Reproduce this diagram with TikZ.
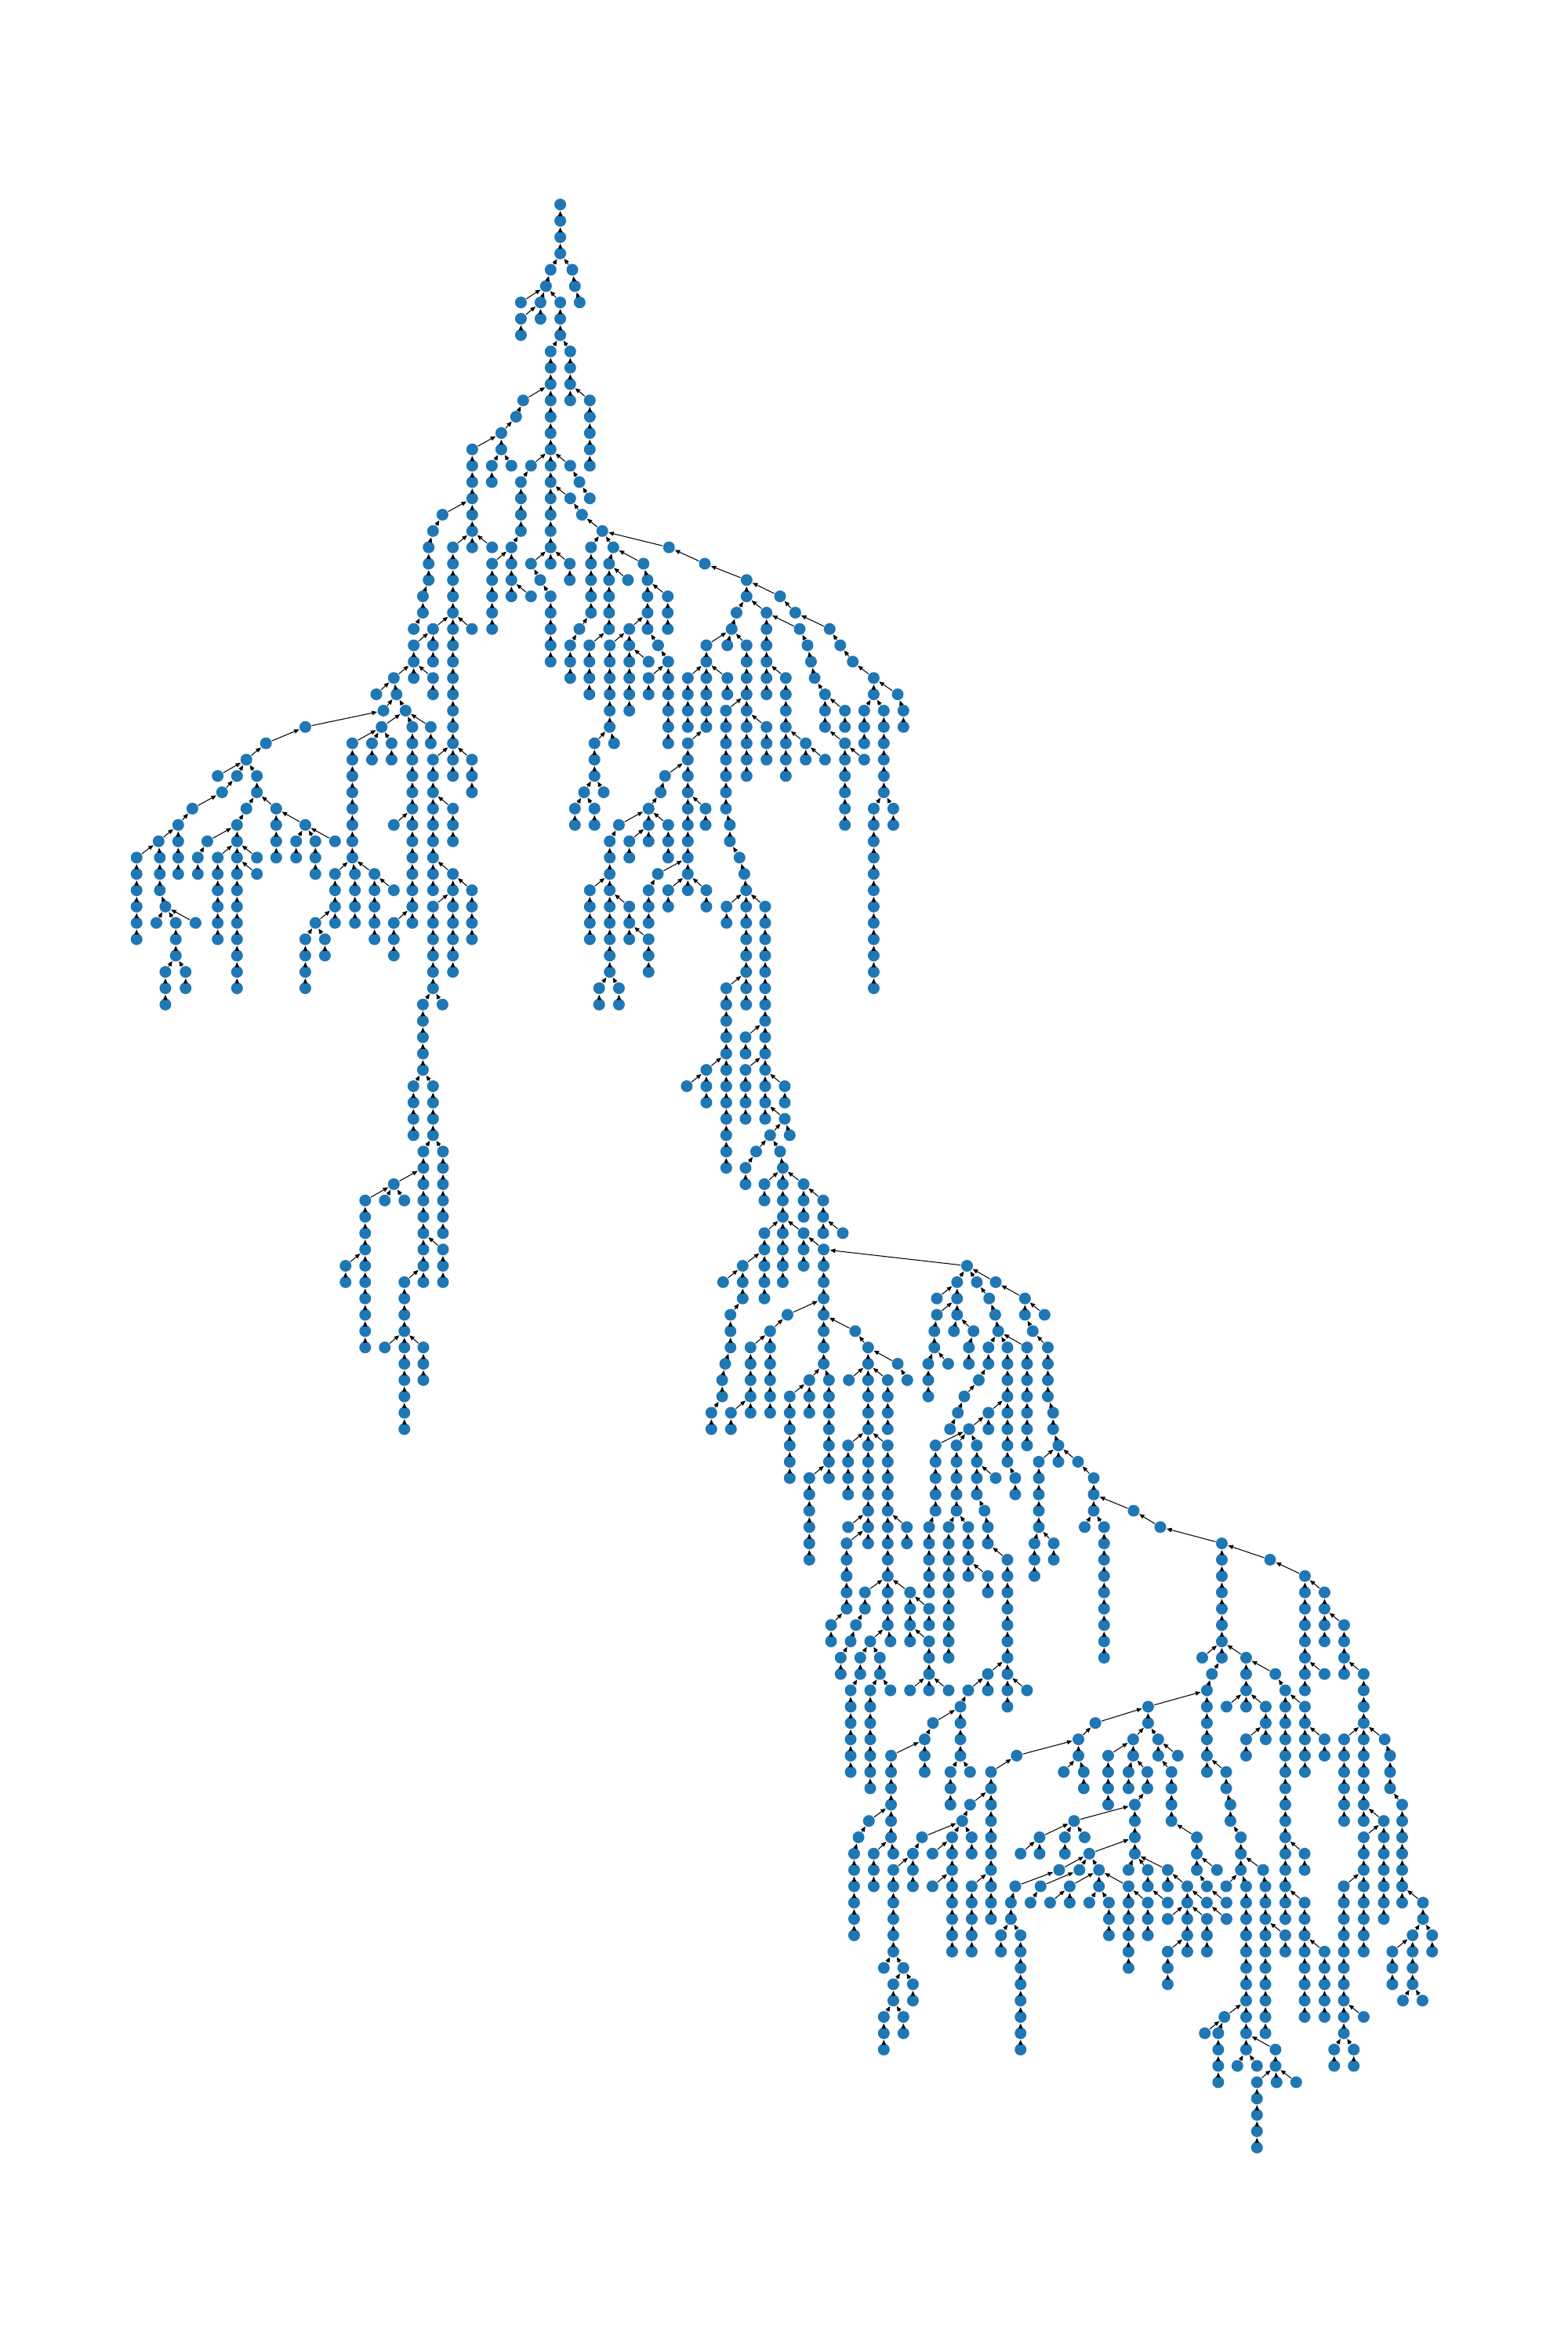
\documentclass[tikz,border=0pt]{standalone}
\usetikzlibrary{arrows.meta}
\definecolor{nb}{HTML}{1F77B4}
\tikzset{dot/.style={circle,fill=nb,draw=none,inner sep=0pt,minimum size=3.9pt},
  edge/.style={line width=0.27pt,black,-{Triangle[length=1.7pt,width=1.4pt]}}}
\newcommand\tchain[5]{%
  \foreach \i in {1,...,#5}{\node[dot] (#1-\i) at (#3,{135.6+10.83*(#4+\i-1)}) {};}%
  \draw[edge] (#1-1) -- (#2);%
  \ifnum#5>1 \foreach \i [evaluate=\i as \j using int(\i-1)] in {2,...,#5}{\draw[edge] (#1-\i) -- (#1-\j);}\fi}
\begin{document}
\begin{tikzpicture}[x=0.5pt,y=-0.5pt]
\useasboundingbox[fill=white] (0,0) rectangle (1040,1560);
\foreach \i in {1,...,4}{\node[dot] (R-\i) at (371.6,{135.6+10.83*(\i-1)}) {};}
\foreach \i [evaluate=\i as \j using int(\i-1)] in {2,...,4}{\draw[edge] (R-\i) -- (R-\j);}
% top
\tchain{a}{R-4}{365.2}{4}{1}
\tchain{a2}{a-1}{362.1}{5}{1}
\tchain{b1}{R-4}{379.6}{4}{1}
\tchain{b2}{b1-1}{381.3}{5}{1}
\tchain{b3}{b2-1}{384.5}{6}{1}
\tchain{c1}{a2-1}{345.5}{6}{1}
\tchain{c2}{a2-1}{358.5}{6}{2}
\tchain{c3}{c2-1}{345.5}{7}{2}
\tchain{c4}{a2-1}{371.6}{6}{3}
\tchain{d1}{c4-3}{365.2}{9}{3}
\tchain{d2}{c4-3}{378.2}{9}{3}
\tchain{e1}{d2-3}{378.2}{12}{1}
\tchain{e2}{d2-3}{391.2}{12}{5}
\tchain{f1}{d1-3}{347}{12}{1}
\tchain{f2}{f1-1}{342.3}{13}{1}
\tchain{f3}{f2-1}{332.5}{14}{2}
\tchain{f4}{f3-1}{313.2}{15}{7}
\tchain{f5}{f3-2}{326.2}{16}{2}
\tchain{f6}{f3-2}{339.2}{16}{1}
\tchain{g}{d1-3}{365.2}{12}{10}
\tchain{h1}{g-4}{352.2}{16}{1}
\tchain{h2}{h1-1}{345.5}{17}{4}
\tchain{h3}{h2-4}{339.2}{21}{1}
\tchain{i1}{g-4}{378.2}{16}{1}
\tchain{i2}{i1-1}{384.3}{17}{1}
\tchain{i3}{i2-1}{391.2}{18}{1}
\tchain{j1}{g-6}{378.2}{18}{1}
\tchain{j2}{j1-1}{386}{19}{1}
\tchain{j3}{j2-1}{399.5}{20}{1}
\tchain{k1}{f4-4}{293.5}{19}{1}
\tchain{k2}{k1-1}{287.2}{20}{1}
\tchain{k3}{k2-1}{284.3}{21}{3}
\tchain{k4}{k3-3}{280.5}{24}{2}
\tchain{k5}{k4-2}{274.4}{26}{1}
\tchain{m}{f4-6}{300.4}{21}{13}
\tchain{n1}{f4-6}{326.4}{21}{1}
\tchain{n2}{h3-1}{326.4}{22}{5}
\tchain{n3}{h3-1}{339.2}{22}{3}
\tchain{n4}{n3-2}{352.2}{24}{1}
\tchain{o1}{g-10}{352.2}{22}{1}
\tchain{o2}{o1-1}{358.3}{23}{1}
\tchain{o3}{o2-1}{365.2}{24}{5}
\tchain{o4}{g-10}{365.2}{22}{1}
\tchain{o5}{g-10}{377.9}{22}{2}
\tchain{p1}{j3-1}{392}{21}{5}
\tchain{p2}{p1-5}{384.3}{26}{1}
\tchain{p3}{p2-1}{378.2}{27}{3}
\tchain{q}{j3-1}{406.8}{21}{1}
\tchain{q1}{q-1}{404}{22}{5}
\tchain{q2}{q1-1}{416.5}{23}{1}
\tchain{q3}{q1-5}{390.9}{27}{4}
\tchain{s}{q-1}{426.8}{22}{1}
\tchain{s1}{s-1}{429.5}{23}{4}
\tchain{s2}{s1-1}{442.9}{24}{3}
\tchain{s3}{s1-3}{417.4}{26}{1}
\tchain{s4}{s3-1}{404.4}{27}{6}
\tchain{s5}{s3-1}{417.4}{27}{5}
\tchain{s6}{s5-1}{430.2}{28}{1}
\tchain{s7}{s1-4}{436.5}{27}{1}
\tchain{s8}{s7-1}{443.2}{28}{6}
\tchain{s9}{s8-1}{430.2}{29}{2}
\tchain{t1}{s4-6}{394.3}{33}{3}
\tchain{t2}{s4-6}{407.3}{33}{1}
\tchain{t3}{t1-3}{387.4}{36}{1}
\tchain{t4}{t1-3}{400.4}{36}{1}
\tchain{t5}{t3-1}{381.3}{37}{2}
\tchain{t6}{t3-1}{394.3}{37}{2}
\tchain{u}{j3-1}{443.7}{21}{1}
\tchain{u1}{u-1}{467.5}{22}{1}
\tchain{u2}{u1-1}{495.2}{23}{2}
\tchain{u3}{u2-1}{517.4}{24}{1}
\tchain{v1}{u2-2}{488.5}{25}{1}
\tchain{v2}{v1-1}{485.3}{26}{1}
\tchain{w1}{v2-1}{468.5}{27}{6}
\tchain{w2}{v2-1}{482.4}{27}{1}
\tchain{w3}{v2-1}{495.2}{27}{9}
\tchain{w4}{w1-2}{456.2}{29}{4}
\tchain{w5}{w1-2}{482.4}{29}{2}
\tchain{x1}{w1-6}{456.2}{33}{9}
\tchain{x2}{x1-2}{441.1}{35}{1}
\tchain{x3}{x2-1}{438.2}{36}{1}
\tchain{x4}{x3-1}{430.2}{37}{1}
\tchain{x5}{x4-1}{410.5}{38}{1}
\tchain{x6}{x5-1}{404.4}{39}{9}
\tchain{x7}{x6-3}{391.2}{42}{4}
\tchain{x8}{x6-4}{417.4}{43}{3}
\tchain{x9}{x8-2}{430.2}{45}{3}
\tchain{x10}{x6-9}{397.4}{48}{2}
\tchain{x11}{x6-9}{410.5}{48}{2}
\tchain{x12}{x4-1}{430.2}{38}{2}
\tchain{x13}{x12-1}{417.4}{39}{2}
\tchain{x14}{x4-1}{443.2}{38}{3}
\tchain{x15}{x1-4}{468}{37}{2}
\tchain{x16}{x1-8}{436.3}{41}{1}
\tchain{x17}{x16-1}{430.2}{42}{3}
\tchain{x18}{x1-9}{443.2}{42}{2}
\tchain{x19}{x1-9}{456.2}{42}{1}
\tchain{x20}{x1-9}{468.5}{42}{2}
\tchain{y1}{w3-4}{481.5}{31}{7}
\tchain{y2}{y1-7}{484.1}{38}{2}
\tchain{y3}{y2-2}{490.5}{40}{1}
\tchain{y4}{y3-1}{493.7}{41}{1}
\tchain{y5}{y4-1}{494.9}{42}{8}
\tchain{y6}{y5-1}{481.9}{43}{2}
\tchain{y7}{y5-1}{507.5}{43}{14}
\tchain{y8}{y5-6}{481.7}{48}{12}
\tchain{y9}{y8-5}{468.5}{53}{3}
\tchain{y10}{y9-1}{455.5}{54}{1}
\tchain{y11}{y7-8}{494.5}{51}{2}
\tchain{y12}{y7-10}{494.5}{53}{4}
\tchain{y13}{y7-11}{520.5}{54}{2}
\tchain{y14}{y7-13}{520.5}{56}{1}
\tchain{y15}{y14-1}{510.8}{57}{1}
\tchain{y16}{y14-1}{523.8}{57}{1}
\tchain{y17}{y15-1}{501.5}{58}{1}
\tchain{y18}{y17-1}{494.5}{59}{2}
\tchain{y19}{y15-1}{517.4}{58}{1}
\tchain{y20}{y19-1}{519.2}{59}{1}
\tchain{z1}{y20-1}{507}{60}{2}
\tchain{z2}{y20-1}{519.2}{60}{3}
\tchain{z3}{y20-1}{533}{60}{3}
\tchain{z4}{z3-1}{546}{61}{3}
\tchain{z5}{z4-2}{559}{63}{1}
\tchain{z6}{z2-3}{507}{63}{5}
\tchain{z7}{z2-3}{519.2}{63}{4}
\tchain{z8}{z2-3}{533}{63}{3}
\tchain{Z}{z8-1}{546.3}{64}{8}
\tchain{aa1}{z6-2}{492.6}{65}{3}
\tchain{aa2}{aa1-1}{479.6}{66}{1}
\tchain{aa3}{aa1-3}{484.5}{68}{3}
\tchain{aa4}{aa3-3}{481}{71}{1}
\tchain{aa5}{aa4-1}{479}{72}{2}
\tchain{aa6}{aa5-2}{471.8}{74}{2}
\tchain{ab1}{Z-4}{522.3}{68}{1}
\tchain{ab2}{ab1-1}{510.8}{69}{6}
\tchain{ab3}{ab2-1}{497.8}{70}{5}
\tchain{ab4}{ab3-4}{484.8}{74}{2}
\tchain{ac1}{Z-5}{567.2}{69}{1}
\tchain{ac2}{ac1-1}{575.8}{70}{13}
\tchain{ac3}{ac2-1}{595.4}{71}{1}
\tchain{ac4}{ac3-1}{601.8}{72}{1}
\tchain{ac5}{ac2-2}{563}{72}{1}
\tchain{ac6}{ac2-2}{588.8}{72}{4}
\tchain{ac7}{ac2-6}{562.5}{76}{4}
\tchain{ac8}{ac2-6}{588.8}{76}{12}
\tchain{ac9}{ac2-11}{562.5}{81}{1}
\tchain{ac10}{ac2-12}{561.5}{82}{5}
\tchain{ac11}{ac10-5}{551.2}{87}{2}
\tchain{ac12}{ac8-5}{601.5}{81}{2}
\tchain{ac13}{ac8-9}{573.7}{85}{2}
\tchain{ac14}{ac13-2}{567.7}{87}{1}
\tchain{ac15}{ac14-1}{564.2}{88}{1}
\tchain{ac16}{ac15-1}{557.6}{89}{2}
\tchain{ac17}{ac8-9}{603.6}{85}{4}
\tchain{ac18}{ac8-12}{577.2}{88}{1}
\tchain{ac19}{ac8-12}{590.6}{88}{1}
\tchain{ac20}{ac18-1}{570.6}{89}{2}
\tchain{ac21}{ac18-1}{583.6}{89}{2}
\tchain{ac22}{ac20-2}{564.2}{91}{6}
\tchain{ac23}{ac21-2}{577.2}{91}{7}
\tchain{ac24}{ac21-2}{590.6}{91}{1}
\tchain{ad1}{Z-8}{536.8}{72}{3}
\tchain{ad2}{ad1-1}{523.8}{73}{6}
\tchain{ad3}{Z-8}{549.8}{72}{7}
\tchain{ad4}{ad3-6}{536.8}{78}{6}
\tchain{ba}{Z-1}{641.4}{65}{1}
\tchain{bb1}{ba-1}{634.8}{66}{3}
\tchain{bb2}{bb1-1}{621.4}{67}{1}
\tchain{bb3}{bb1-2}{621.4}{68}{1}
\tchain{bb4}{bb3-1}{619.7}{69}{2}
\tchain{bb5}{bb4-2}{615.7}{71}{3}
\tchain{bb6}{bb4-2}{628.9}{71}{1}
\tchain{bb7}{bb1-3}{632.7}{69}{1}
\tchain{bb8}{bb1-3}{645.7}{69}{1}
\tchain{bb9}{bb8-1}{642.6}{70}{2}
\tchain{bc1}{ba-1}{647.9}{66}{1}
\tchain{bc2}{bc1-1}{656.1}{67}{1}
\tchain{bc3}{bc2-1}{660.1}{68}{1}
\tchain{bc4}{bc3-1}{662.1}{69}{1}
\tchain{bd1}{bc4-1}{655.6}{70}{2}
\tchain{bd2}{bd1-2}{649.2}{72}{1}
\tchain{bd3}{bd2-1}{639.6}{73}{1}
\tchain{bd4}{bd3-1}{635.3}{74}{1}
\tchain{bd5}{bd4-1}{630.1}{75}{1}
\tchain{be}{bc4-1}{668.2}{70}{8}
\tchain{bf}{bc4-1}{681.2}{70}{7}
\tchain{bg1}{be-4}{655.6}{74}{2}
\tchain{bg2}{bg1-1}{642.7}{75}{1}
\tchain{bh1}{bg2-1}{620.5}{76}{5}
\tchain{bh1b}{bh1-5}{616.2}{81}{5}
\tchain{bh2}{bg2-1}{634.4}{76}{5}
\tchain{bh3}{bg2-1}{647.9}{76}{4}
\tchain{bh4}{bh3-2}{660.4}{78}{1}
\tchain{bh5}{bh3-4}{653}{80}{1}
\tchain{bh6}{bh5-1}{655.2}{81}{2}
\tchain{bh7}{bh6-2}{668.2}{83}{10}
\tchain{bh8}{bh7-7}{655.2}{90}{2}
\tchain{bh9}{bh7-8}{681.2}{91}{1}
\tchain{bh10}{bh8-1}{642.2}{91}{1}
\tchain{bh11}{bh10-1}{637}{92}{4}
\tchain{bh12}{bh11-1}{618.8}{93}{1}
\tchain{bh13}{bh12-1}{613.3}{94}{3}
\tchain{bh14}{bh11-4}{630.4}{96}{3}
\tchain{bh15}{bh11-4}{643.4}{96}{1}
\tchain{bi1}{bh13-1}{591}{95}{6}
\tchain{bi2}{bi1-4}{576.3}{99}{1}
\tchain{bi3}{bi2-1}{569.4}{100}{1}
\tchain{bi4}{bi3-1}{566.5}{101}{6}
\tchain{bi5}{bi1-6}{579.5}{101}{3}
\tchain{bi6}{bi1-6}{592.5}{101}{1}
\tchain{bj1}{bh2-5}{629.2}{81}{9}
\tchain{bj2}{bh2-5}{642.2}{81}{4}
\tchain{bj3}{bj2-3}{655.2}{84}{2}
\tchain{bk1}{ac17-1}{616.2}{86}{2}
\tchain{bk2}{ac17-3}{616.2}{88}{3}
\tchain{bk3}{bk2-3}{616.2}{91}{1}
\tchain{bk4}{bk2-3}{629.2}{91}{1}
\tchain{bk5}{bk2-3}{603.6}{91}{1}
\tchain{bl1}{be-8}{673.4}{78}{2}
\tchain{bm1}{ba-1}{660.4}{66}{1}
\tchain{bm2}{bm1-1}{679.8}{67}{2}
\tchain{bm3}{bm2-1}{692.8}{68}{1}
\tchain{bm4}{bm2-2}{685}{69}{1}
\tchain{bm5}{bm4-1}{695}{70}{4}
\tchain{bm6}{bm5-4}{698.5}{74}{2}
\tchain{bm7}{bm6-2}{702}{76}{2}
\tchain{bm8}{bm7-1}{689}{77}{5}
\tchain{bm9}{bm7-1}{715}{77}{1}
\tchain{bm10}{bm8-5}{686.1}{82}{3}
\tchain{bm11}{bm8-5}{698.9}{82}{2}
\tchain{bn1}{bm9-1}{725.4}{78}{3}
\tchain{bn2}{bn1-3}{719.4}{81}{1}
\tchain{bn3}{bn1-3}{732.3}{81}{9}
\tchain{bo1}{bn1-2}{751.9}{80}{1}
\tchain{bo2}{bo1-1}{769.6}{81}{1}
\tchain{bo3}{bo2-1}{810.4}{82}{7}
\tchain{bp1}{bo3-1}{842.4}{83}{1}
\tchain{bp2}{bp1-1}{865.5}{84}{8}
\tchain{bp3}{bp2-1}{878.5}{85}{4}
\tchain{bp4}{bp2-6}{878.5}{90}{1}
\tchain{bp5}{bp3-2}{891.5}{87}{4}
\tchain{bq1}{bp5-3}{904.5}{90}{10}
\tchain{bq2}{bq1-4}{891.5}{94}{6}
\tchain{bq3}{bq1-4}{918.4}{94}{1}
\tchain{bq4}{bq3-1}{922}{95}{3}
\tchain{bq5}{bq4-3}{930}{98}{7}
\tchain{bq6}{bq5-6}{943.8}{104}{2}
\tchain{bq7}{bq6-2}{936.9}{106}{4}
\tchain{bq8}{bq6-2}{949.9}{106}{2}
\tchain{bq9}{bq7-1}{923.5}{107}{3}
\tchain{bq10}{bq7-4}{930.5}{110}{1}
\tchain{bq11}{bq7-4}{943.5}{110}{1}
\tchain{br1}{bq1-9}{917.8}{99}{7}
\tchain{br2}{br1-1}{904.5}{100}{8}
\tchain{br3}{br2-3}{891.3}{103}{10}
\tchain{br4}{br3-8}{904.5}{111}{1}
\tchain{br5}{br3-10}{884.9}{113}{2}
\tchain{br6}{br3-10}{897.9}{113}{2}
\tchain{bs1}{bo3-7}{797.4}{89}{1}
\tchain{bs2}{bo3-7}{810.4}{89}{1}
\tchain{bs3}{bs2-1}{803.8}{90}{1}
\tchain{bs4}{bs3-1}{800.5}{91}{6}
\tchain{bt1}{bs4-1}{761.5}{92}{2}
\tchain{bt2}{bt1-1}{726.5}{93}{1}
\tchain{bt3}{bt2-1}{715.3}{94}{2}
\tchain{bt4}{bt3-1}{674.3}{95}{1}
\tchain{bt5}{bt4-1}{657.3}{96}{10}
\tchain{bt6}{bt3-2}{705.5}{96}{1}
\tchain{bt7}{bt3-2}{718.8}{96}{2}
\tchain{bu1}{bt5-2}{643.4}{98}{1}
\tchain{bu2}{bu1-1}{638.2}{99}{1}
\tchain{bu3}{bu2-1}{611.5}{100}{1}
\tchain{bu4}{bu3-1}{605.5}{101}{3}
\tchain{bu5}{bu4-1}{592.5}{102}{6}
\tchain{bu6}{bu5-6}{586.2}{108}{1}
\tchain{bu7}{bu5-6}{599.2}{108}{1}
\tchain{bu8}{bu7-1}{592.5}{109}{2}
\tchain{bu9}{bu7-1}{605.5}{109}{2}
\tchain{bu10}{bu8-2}{586.2}{111}{3}
\tchain{bu11}{bu8-2}{599.2}{111}{2}
\tchain{bv1}{bu2-1}{631.5}{100}{8}
\tchain{bv2}{bv1-1}{618.5}{101}{1}
\tchain{bv3}{bv1-3}{618.5}{103}{1}
\tchain{bv4}{bu2-1}{644.5}{100}{2}
\tchain{bv5}{bt5-7}{644.5}{103}{5}
\tchain{bw1}{bt1-2}{751.6}{94}{2}
\tchain{bw2}{bw1-1}{735}{95}{4}
\tchain{bw3}{bw1-2}{748.5}{96}{2}
\tchain{bw4}{bw1-2}{761}{96}{2}
\tchain{bw5}{bw4-2}{752.7}{98}{4}
\tchain{bx1}{bw5-1}{712.4}{99}{1}
\tchain{bx2}{bx1-1}{689.5}{100}{2}
\tchain{bx3}{bx2-1}{676.9}{101}{1}
\tchain{bx4}{bx1-1}{706.3}{100}{2}
\tchain{bx5}{bx1-1}{719.4}{100}{1}
\tchain{by1}{bw5-3}{722.5}{101}{1}
\tchain{by2}{by1-1}{702.5}{102}{1}
\tchain{by3}{by1-1}{715.9}{102}{1}
\tchain{by4}{by1-1}{728.9}{102}{2}
\tchain{by5}{by2-1}{673.4}{103}{1}
\tchain{by6}{by5-1}{670.5}{104}{2}
\tchain{by7}{by6-2}{663.9}{106}{2}
\tchain{by8}{by6-2}{676.9}{106}{8}
\tchain{by9}{by3-1}{690.2}{103}{1}
\tchain{by10}{by9-1}{683.5}{104}{1}
\tchain{by11}{by4-1}{709.5}{103}{2}
\tchain{by12}{by11-1}{696.5}{104}{1}
\tchain{by13}{by4-2}{722.5}{104}{1}
\tchain{by14}{by4-2}{735.5}{104}{3}
\tchain{bz1}{by4-1}{748.5}{103}{6}
\tchain{bz2}{bz1-1}{761.3}{104}{3}
\tchain{ca1}{bw5-4}{748.5}{102}{1}
\tchain{ca2}{bw5-4}{761.3}{102}{2}
\tchain{ca3}{bw5-4}{774.5}{102}{2}
\tchain{ca4}{ca2-2}{774.5}{104}{1}
\tchain{ca5}{ca3-1}{787.5}{103}{4}
\tchain{ca6}{ca5-1}{800.5}{104}{1}
\tchain{ca7}{ca6-1}{813.5}{105}{1}
\tchain{ca8}{ca5-2}{774.5}{105}{1}
\tchain{ca9}{ca5-2}{800.5}{105}{3}
\tchain{ca10}{ca5-4}{774.5}{107}{3}
\tchain{ca11}{ca5-4}{787.5}{107}{1}
\tchain{cb1}{bs4-5}{813.3}{96}{2}
\tchain{cb2}{cb1-2}{816.1}{98}{2}
\tchain{cb3}{cb2-2}{823}{100}{3}
\tchain{cb4}{cb3-2}{837.8}{102}{1}
\tchain{cb5}{cb4-1}{839.3}{103}{10}
\tchain{cb6}{cb5-3}{852.5}{106}{2}
\tchain{cc1}{bt1-2}{768.2}{94}{2}
\tchain{cc2}{cc1-1}{781.2}{95}{1}
\tchain{cc3}{cc1-2}{777}{96}{4}
\tchain{cc4}{cc3-4}{793.8}{100}{3}
\tchain{cc5}{cc4-2}{807.2}{102}{1}
\tchain{cc6}{cc4-3}{800.5}{103}{1}
\tchain{cc7}{cc6-1}{813.5}{104}{1}
\tchain{cd1}{cb3-3}{813.3}{103}{1}
\tchain{cd2}{cb3-3}{826.5}{103}{11}
\tchain{cd3}{cd2-8}{812.1}{111}{1}
\tchain{cd4}{cd3-1}{799.1}{112}{1}
\tchain{cd5}{cd3-1}{808}{112}{4}
\tchain{cd6}{cd2-10}{846}{113}{2}
\tchain{cd7}{cd6-2}{833.7}{115}{5}
\tchain{cd8}{cd6-2}{846.7}{115}{1}
\tchain{cd9}{cd6-2}{859.7}{115}{1}
\tchain{cd10}{cd2-11}{820.7}{114}{1}
\tchain{cd11}{cd2-11}{833.7}{114}{1}
\tchain{ce1}{bo3-7}{826.5}{89}{3}
\tchain{ce2}{ce1-1}{845.9}{90}{1}
\tchain{ce3}{ce2-1}{852.5}{91}{15}
\tchain{ce4}{ce3-1}{865.5}{92}{5}
\tchain{ce5}{ce4-2}{878.5}{94}{2}
\tchain{ce6}{ce3-10}{865.3}{101}{2}
\tchain{ce7}{ce3-13}{865.3}{104}{8}
\tchain{ce8}{ce7-3}{878.5}{107}{5}
\tchain{ce9}{ce1-3}{813.5}{92}{1}
\tchain{ce10}{ce1-3}{826.5}{92}{1}
\tchain{ce11}{ce1-3}{839.5}{92}{3}
\tchain{ce12}{ce11-2}{826.5}{94}{2}
% left part
\tchain{ma1}{m-5}{287.2}{26}{3}
\tchain{ma2}{m-5}{313}{26}{1}
\tchain{ma3}{ma1-1}{274.4}{27}{2}
\tchain{ma4}{ma3-2}{261.2}{29}{1}
\tchain{ma5}{ma3-2}{274.4}{29}{1}
\tchain{ma6}{ma3-2}{287.2}{29}{2}
\tchain{ma7}{ma4-1}{249.6}{30}{1}
\tchain{ma8}{ma4-1}{263}{30}{1}
\tchain{ma9}{ma8-1}{254.3}{31}{1}
\tchain{mb1}{ma8-1}{269}{31}{1}
\tchain{mb2}{mb1-1}{253.1}{32}{1}
\tchain{mb3}{mb1-1}{273.5}{32}{13}
\tchain{mb4}{mb1-1}{285.7}{32}{2}
\tchain{mc1}{mb2-1}{233.7}{33}{8}
\tchain{mc2}{mb2-1}{246.7}{33}{2}
\tchain{mc3}{mb2-1}{259.7}{33}{2}
\tchain{mc4}{mc1-8}{222.2}{41}{4}
\tchain{mc5}{mc1-8}{235.4}{41}{4}
\tchain{mc6}{mc1-8}{248.4}{41}{5}
\tchain{mc7}{mc6-1}{261.2}{42}{1}
\tchain{mc8}{mc4-3}{209.2}{44}{1}
\tchain{mc9}{mc8-1}{202.5}{45}{4}
\tchain{mc10}{mc8-1}{215.5}{45}{2}
\tchain{md1}{mb3-6}{261.2}{38}{1}
\tchain{md2}{mb3-12}{261.2}{44}{3}
\tchain{me1}{ma9-1}{202.5}{32}{1}
\tchain{me2}{me1-1}{176.4}{33}{1}
\tchain{me3}{me2-1}{163.4}{34}{1}
\tchain{me4}{me3-1}{144.4}{35}{1}
\tchain{me5}{me3-1}{157.2}{35}{1}
\tchain{me6}{me3-1}{170.4}{35}{2}
\tchain{me7}{me5-1}{147.3}{36}{1}
\tchain{me8}{me7-1}{127.6}{37}{1}
\tchain{me9}{me8-1}{118.2}{38}{1}
\tchain{mf1}{me9-1}{105.2}{39}{1}
\tchain{mf2}{me9-1}{118.2}{39}{3}
\tchain{mf3}{mf1-1}{90.6}{40}{6}
\tchain{mf4}{mf1-1}{106}{40}{3}
\tchain{mf5}{mf4-3}{109.7}{43}{1}
\tchain{mf6}{mf5-1}{103.7}{44}{1}
\tchain{mf7}{mf5-1}{116.6}{44}{3}
\tchain{mf8}{mf5-1}{129.7}{44}{1}
\tchain{mf9}{mf7-3}{109.7}{47}{3}
\tchain{mf10}{mf7-3}{123.1}{47}{2}
\tchain{mg1}{me6-2}{163.4}{37}{1}
\tchain{mg2}{mg1-1}{157.2}{38}{1}
\tchain{mg3}{mg2-1}{137.5}{39}{1}
\tchain{mg4}{mg3-1}{131.2}{40}{2}
\tchain{mg5}{mg2-1}{157.2}{39}{1}
\tchain{mg6}{mg5-1}{144.4}{40}{6}
\tchain{mg7}{mg5-1}{157.2}{40}{9}
\tchain{mg8}{mg5-1}{170.4}{40}{1}
\tchain{mg9}{mg7-1}{170.4}{41}{1}
\tchain{mh1}{me6-2}{183.2}{37}{4}
\tchain{mh2}{mh1-1}{202.5}{38}{1}
\tchain{mh3}{mh2-1}{196.4}{39}{2}
\tchain{mh4}{mh2-1}{209.2}{39}{3}
\tchain{mh5}{mh2-1}{222.2}{39}{1}
\tchain{mi1}{m-13}{287.2}{34}{9}
\tchain{mi2}{m-13}{300.4}{34}{2}
\tchain{mi3}{m-13}{313}{34}{3}
\tchain{mi4}{mi1-3}{300.4}{37}{3}
\tchain{mi5}{mi1-7}{300.4}{41}{7}
\tchain{mi6}{mi5-1}{313}{42}{4}
\tchain{mi7}{mi5-2}{287.2}{43}{6}
\tchain{mj1}{mi7-6}{280.5}{49}{5}
\tchain{mj2}{mi7-6}{293.5}{49}{1}
\tchain{mj3}{mj1-5}{274.2}{54}{4}
\tchain{mj4}{mj1-5}{287.2}{54}{4}
\tchain{mk1}{mj4-4}{280.8}{58}{9}
\tchain{mk2}{mj4-4}{293.8}{58}{6}
\tchain{mk3}{mk1-6}{293.8}{64}{3}
\tchain{ml1}{mk1-2}{261.2}{60}{1}
\tchain{ml2}{ml1-1}{242.2}{61}{10}
\tchain{ml3}{ml1-1}{255.2}{61}{1}
\tchain{ml4}{ml1-1}{268.2}{61}{1}
\tchain{ml5}{ml2-4}{229.2}{65}{2}
\tchain{mm1}{mk1-8}{268.2}{66}{10}
\tchain{mm2}{mm1-4}{255.2}{70}{1}
\tchain{mm3}{mm1-4}{280.8}{70}{3}
% middle right
\tchain{ua1}{u3-1}{527.5}{25}{1}
\tchain{ua2}{ua1-1}{550.3}{26}{1}
\tchain{ua3}{ua2-1}{557.3}{27}{1}
\tchain{ua4}{ua3-1}{565.6}{28}{1}
\tchain{ua5}{ua4-1}{579.5}{29}{2}
\tchain{ua6}{ua5-1}{595.4}{30}{1}
\tchain{ua7}{ua6-1}{599.2}{31}{2}
\tchain{ua8}{ua5-2}{573.2}{31}{3}
\tchain{ua9}{ua5-2}{586.2}{31}{6}
\tchain{ua10}{ua9-6}{579.5}{37}{12}
\tchain{ua11}{ua9-6}{592.5}{37}{2}
\tchain{va1}{u2-2}{508.4}{25}{6}
\tchain{va2}{va1-1}{530.4}{26}{1}
\tchain{va3}{va2-1}{535.6}{27}{1}
\tchain{va4}{va3-1}{537.9}{28}{1}
\tchain{va5}{va4-1}{540.3}{29}{1}
\tchain{va6}{va5-1}{547.2}{30}{3}
\tchain{va7}{va6-1}{560.4}{31}{2}
\tchain{va8}{va6-3}{560.4}{33}{6}
\tchain{va9}{va8-1}{573.2}{34}{1}
\tchain{vb1}{va1-4}{521.2}{29}{7}
\tchain{vb2}{vb1-4}{534.4}{33}{2}
\tchain{vb3}{vb2-1}{547.2}{34}{1}
\tchain{wb}{w3-5}{508.4}{32}{3}
\end{tikzpicture}
\end{document}
